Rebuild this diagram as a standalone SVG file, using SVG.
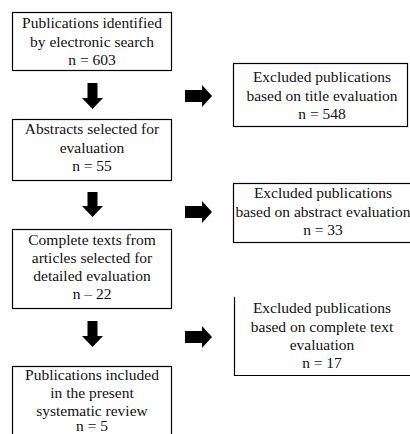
<svg xmlns="http://www.w3.org/2000/svg" width="410" height="434" viewBox="0 0 410 434">
<style>
.box{fill:#fff;stroke:#000;stroke-width:1.2}
.t{font-family:"Liberation Serif","Times New Roman",serif;font-size:15.5px;fill:#111;text-anchor:middle}
.arr{fill:#000}
</style>
<rect width="410" height="434" fill="#fff"/>
<g id="n1"><rect class="box" x="12.5" y="12.5" width="159" height="58"/>
<text class="t" x="92" y="28">Publications identified</text>
<text class="t" x="92" y="46.5">by electronic search</text>
<text class="t" x="92" y="65">n = 603</text></g>
<g id="n2"><rect class="box" x="233.5" y="63.5" width="174" height="63"/>
<text class="t" x="322" y="82">Excluded publications</text>
<text class="t" x="322" y="100.5">based on title evaluation</text>
<text class="t" x="322" y="119">n = 548</text></g>
<g id="n3"><rect class="box" x="12.5" y="119.5" width="159" height="61"/>
<text class="t" x="92" y="134">Abstracts selected for</text>
<text class="t" x="92" y="152.5">evaluation</text>
<text class="t" x="92" y="171">n = 55</text></g>
<g id="n4"><rect class="box" x="233.5" y="183.5" width="190" height="59"/>
<text class="t" x="323" y="198">Excluded publications</text>
<text class="t" x="323" y="216.5">based on abstract evaluation</text>
<text class="t" x="323" y="235">n = 33</text></g>
<g id="n5"><rect class="box" x="12.5" y="229.5" width="159" height="79"/>
<text class="t" x="92" y="245">Complete texts from</text>
<text class="t" x="92" y="263">articles selected for</text>
<text class="t" x="92" y="281">detailed evaluation</text>
<text class="t" x="92" y="299">n – 22</text></g>
<g id="n6"><path d="M234.5,297 V375.5 H410" fill="none" stroke="#000" stroke-width="1.2"/>
<text class="t" x="322" y="313">Excluded publications</text>
<text class="t" x="322" y="331.5">based on complete text</text>
<text class="t" x="322" y="349.5">evaluation</text>
<text class="t" x="322" y="367.5">n = 17</text></g>
<g id="n7"><rect class="box" x="12.5" y="366.5" width="159" height="80"/>
<text class="t" x="92" y="380">Publications included</text>
<text class="t" x="92" y="398">in the present</text>
<text class="t" x="92" y="415.5">systematic review</text>
<text class="t" x="92" y="431">n = 5</text></g>
<g id="connectors">
<path class="arr" d="M87.5,83 H97.5 V98 H103 L92.5,109 L82,98 H87.5 Z"/>
<path class="arr" d="M87.5,192 H97.5 V206 H103 L92.5,217 L82,206 H87.5 Z"/>
<path class="arr" d="M87.5,321 H97.5 V336 H103 L92.5,347 L82,336 H87.5 Z"/>
<path class="arr" d="M185,90 V102 H202 V107 L212,96 L202,85 V90 Z"/>
<path class="arr" d="M185,206 V218 H202 V223 L212,212 L202,201 V206 Z"/>
<path class="arr" d="M185,331 V343 H202 V348 L212,337 L202,326 V331 Z"/>
</g>
</svg>
